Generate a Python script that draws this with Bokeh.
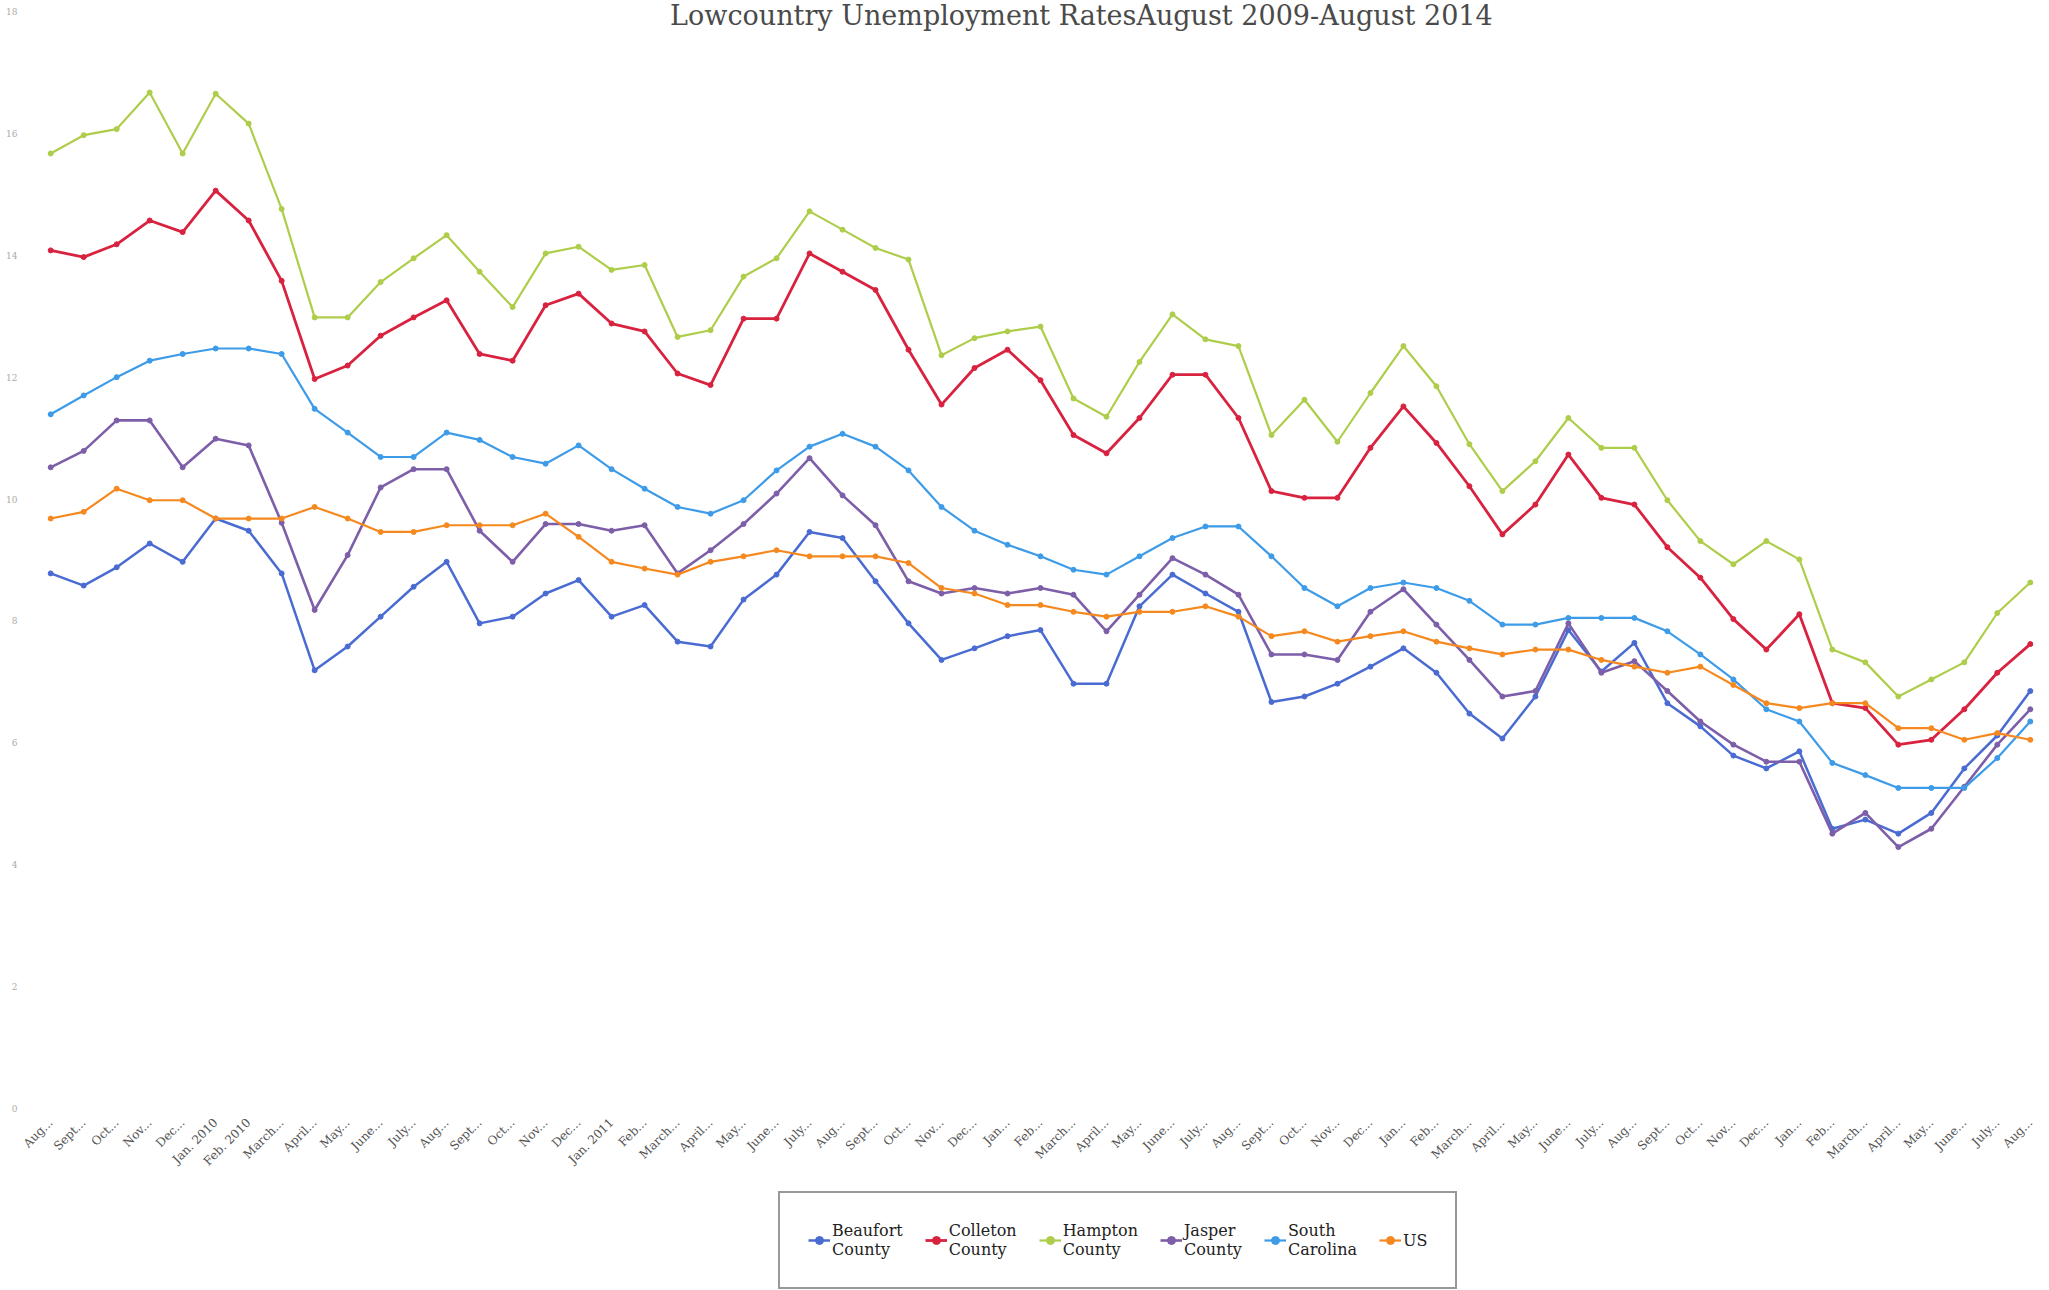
import math
from bokeh.plotting import figure
from bokeh.layouts import column
from bokeh.models import Range1d, FixedTicker, Legend, LegendItem
from bokeh.core.properties import value
from bokeh.embed import file_html
from bokeh.resources import INLINE

months = ["Aug...", "Sept...", "Oct...", "Nov...", "Dec...",
          "Jan. 2010", "Feb. 2010", "March...", "April...", "May...", "June...", "July...",
          "Aug...", "Sept...", "Oct...", "Nov...", "Dec...",
          "Jan. 2011", "Feb...", "March...", "April...", "May...", "June...", "July...",
          "Aug...", "Sept...", "Oct...", "Nov...", "Dec...",
          "Jan...", "Feb...", "March...", "April...", "May...", "June...", "July...",
          "Aug...", "Sept...", "Oct...", "Nov...", "Dec...",
          "Jan...", "Feb...", "March...", "April...", "May...", "June...", "July...",
          "Aug...", "Sept...", "Oct...", "Nov...", "Dec...",
          "Jan...", "Feb...", "March...", "April...", "May...", "June...", "July...", "Aug..."]

beaufort = [8.78, 8.58, 8.88, 9.27, 8.97, 9.68, 9.48, 8.78, 7.19, 7.58, 8.07, 8.56, 8.97,
            7.96, 8.07, 8.45, 8.67, 8.07, 8.26, 7.66, 7.58, 8.35, 8.76, 9.46, 9.36,
            8.65, 7.96, 7.36, 7.55, 7.75, 7.85, 6.97, 6.97, 8.24, 8.76, 8.45, 8.15,
            6.67, 6.76, 6.97, 7.25, 7.55, 7.15, 6.48, 6.07, 6.76, 7.85, 7.17, 7.64,
            6.65, 6.27, 5.79, 5.58, 5.86, 4.59, 4.74, 4.51, 4.85, 5.58, 6.12, 6.85]
colleton = [14.08, 13.97, 14.18, 14.57, 14.38, 15.06, 14.57, 13.58, 11.97, 12.19, 12.68, 12.98, 13.26,
            12.38, 12.27, 13.18, 13.37, 12.88, 12.75, 12.06, 11.87, 12.96, 12.96, 14.03, 13.73,
            13.43, 12.45, 11.55, 12.15, 12.45, 11.95, 11.05, 10.75, 11.33, 12.04, 12.04, 11.33,
            10.13, 10.02, 10.02, 10.84, 11.52, 10.92, 10.21, 9.42, 9.91, 10.73, 10.02, 9.91,
            9.21, 8.71, 8.03, 7.53, 8.11, 6.65, 6.57, 5.97, 6.05, 6.55, 7.15, 7.62]
hampton = [15.67, 15.97, 16.07, 16.67, 15.67, 16.65, 16.16, 14.76, 12.98, 12.98, 13.56, 13.95, 14.33,
           13.73, 13.15, 14.03, 14.14, 13.76, 13.84, 12.66, 12.77, 13.65, 13.95, 14.72, 14.42,
           14.12, 13.93, 12.36, 12.64, 12.75, 12.83, 11.65, 11.35, 12.25, 13.03, 12.62, 12.51,
           11.05, 11.63, 10.94, 11.74, 12.51, 11.85, 10.90, 10.13, 10.62, 11.33, 10.84, 10.84,
           9.98, 9.31, 8.93, 9.31, 9.01, 7.53, 7.32, 6.76, 7.04, 7.32, 8.13, 8.63]
jasper = [10.52, 10.79, 11.29, 11.29, 10.52, 10.99, 10.88, 9.61, 8.18, 9.08, 10.19, 10.49, 10.49,
          9.48, 8.97, 9.59, 9.59, 9.48, 9.57, 8.78, 9.16, 9.59, 10.09, 10.67, 10.06,
          9.57, 8.65, 8.45, 8.54, 8.45, 8.54, 8.43, 7.83, 8.43, 9.03, 8.76, 8.43,
          7.45, 7.45, 7.36, 8.15, 8.52, 7.94, 7.36, 6.76, 6.85, 7.96, 7.15, 7.34,
          6.85, 6.35, 5.97, 5.69, 5.69, 4.51, 4.85, 4.29, 4.59, 5.28, 5.97, 6.55]
south_carolina = [11.39, 11.70, 12.00, 12.27, 12.38, 12.47, 12.47, 12.38, 11.48, 11.09, 10.69, 10.69, 11.09,
                  10.97, 10.69, 10.58, 10.88, 10.49, 10.17, 9.87, 9.76, 9.98, 10.47, 10.86, 11.07,
                  10.86, 10.47, 9.87, 9.48, 9.25, 9.06, 8.84, 8.76, 9.06, 9.36, 9.55, 9.55,
                  9.06, 8.54, 8.24, 8.54, 8.63, 8.54, 8.33, 7.94, 7.94, 8.05, 8.05, 8.05,
                  7.83, 7.45, 7.04, 6.55, 6.35, 5.67, 5.47, 5.26, 5.26, 5.26, 5.75, 6.35]
us = [9.68, 9.79, 10.17, 9.98, 9.98, 9.68, 9.68, 9.68, 9.87, 9.68, 9.46, 9.46, 9.57,
      9.57, 9.57, 9.76, 9.38, 8.97, 8.86, 8.76, 8.97, 9.06, 9.16, 9.06, 9.06,
      9.06, 8.95, 8.54, 8.45, 8.26, 8.26, 8.15, 8.07, 8.15, 8.15, 8.24, 8.07,
      7.75, 7.83, 7.66, 7.75, 7.83, 7.66, 7.55, 7.45, 7.53, 7.53, 7.36, 7.25,
      7.15, 7.25, 6.95, 6.65, 6.57, 6.65, 6.65, 6.24, 6.24, 6.05, 6.16, 6.05]

series_names = ["Beaufort\nCounty", "Colleton\nCounty", "Hampton\nCounty",
                "Jasper\nCounty", "South\nCarolina", "US"]
series_values = [beaufort, colleton, hampton, jasper, south_carolina, us]
series_colors = ["#4a6bd2", "#d8223f", "#aecd4a", "#7d5ea8", "#3d9be8", "#f5891f"]
series_widths = [2.5, 2.8, 2.2, 2.6, 2.2, 2.2]

title_text = "Lowcountry Unemployment RatesAugust 2009-August 2014"
y_ticks = [0, 2, 4, 6, 8, 10, 12, 14, 16, 18]

x = list(range(len(months)))

p = figure(frame_width=2006, frame_height=1108,
           x_range=Range1d(-0.4, len(months) - 0.6), y_range=Range1d(0, 18.18),
           output_backend="svg", toolbar_location=None,
           min_border_left=37, min_border_top=0, min_border_right=2, min_border_bottom=0)
p.outline_line_color = None
p.grid.visible = False

for vals, col, lw in zip(series_values, series_colors, series_widths):
    p.line(x, vals, line_color=col, line_width=lw)
    p.scatter(x, vals, size=5, fill_color=col, line_color=col)

p.text(x=[31.24], y=[17.93], text=[title_text], text_font=value("DejaVu Serif"),
       text_font_size="27px", text_color="#4a4a4a", text_align="center",
       text_baseline="alphabetic")

p.xaxis.ticker = FixedTicker(ticks=x)
p.xaxis.major_label_overrides = {i: m for i, m in enumerate(months)}
p.xaxis.major_label_orientation = math.pi / 4
p.xaxis.major_label_text_font = "DejaVu Serif"
p.xaxis.major_label_text_font_size = "12px"
p.xaxis.major_label_text_color = "#555555"
p.xaxis.axis_line_color = None
p.xaxis.major_tick_line_color = None
p.xaxis.minor_tick_line_color = None
p.xaxis.major_label_standoff = 6

p.yaxis.ticker = FixedTicker(ticks=y_ticks)
p.yaxis.major_label_text_font = "DejaVu Serif"
p.yaxis.major_label_text_font_size = "9px"
p.yaxis.major_label_text_color = "#aaaaaa"
p.yaxis.axis_line_color = None
p.yaxis.major_tick_line_color = None
p.yaxis.minor_tick_line_color = None
p.yaxis.major_label_standoff = 14

# legend strip below the chart (series drawn out of view; only the legend shows)
p2 = figure(width=2045, height=116, x_range=Range1d(0, 1), y_range=Range1d(100, 101),
            output_backend="svg", toolbar_location=None,
            min_border_left=0, min_border_right=0, min_border_top=0, min_border_bottom=0)
p2.axis.visible = False
p2.grid.visible = False
p2.outline_line_color = None

items = []
for name, vals, col, lw in zip(series_names, series_values, series_colors, series_widths):
    r1 = p2.line(x, vals, line_color=col, line_width=lw)
    r2 = p2.scatter(x, vals, size=5, fill_color=col, line_color=col)
    items.append(LegendItem(label=name, renderers=[r1, r2]))

legend = Legend(items=items, orientation="horizontal", location=(741, 3),
                label_text_font="DejaVu Serif", label_text_font_size="16px",
                label_text_color="#222222", glyph_width=22, label_standoff=2,
                spacing=22, padding=28, border_line_color="#333333",
                border_line_width=2, margin=0, background_fill_alpha=1)
p2.add_layout(legend, "center")

layout = column(p, p2, spacing=0)
open("out.html", "w").write(file_html(layout, INLINE))
